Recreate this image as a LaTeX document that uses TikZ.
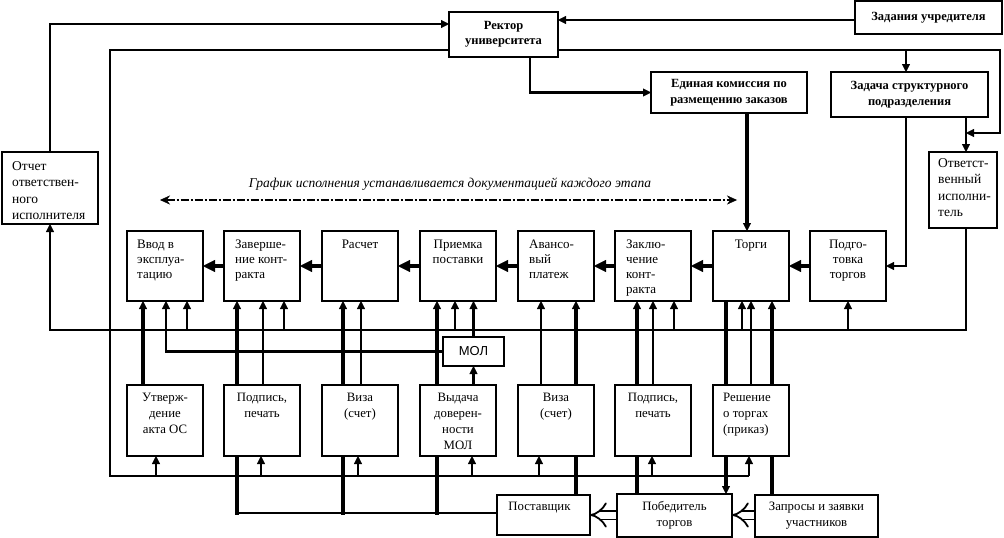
\documentclass[tikz,border=0pt]{standalone}
\usepackage{fontspec}
\setmainfont{Liberation Serif}
\newfontfamily\molfont{Liberation Sans}
\usetikzlibrary{arrows.meta}
\pgfdeclarelayer{bg}
\pgfsetlayers{bg,main}
\begin{document}
\begin{tikzpicture}[x=1pt,y=-1pt,
  box/.style={draw, fill=white, line width=1.8pt, rectangle, inner sep=0pt, outer sep=0pt, anchor=north west},
  tx/.style={inner sep=0pt, font=\fontsize{13}{15}\selectfont},
  txo/.style={inner sep=0pt, align=left, anchor=north west, font=\fontsize{13.5}{16.5}\selectfont},
  txd/.style={inner sep=0pt, font=\fontsize{12.8}{16}\selectfont},
  txb/.style={inner sep=0pt, align=center, font=\bfseries\fontsize{12.5}{15.5}\selectfont},
  thn/.style={line width=1.4pt},
  med/.style={line width=2.6pt},
  thk/.style={line width=4.6pt, line cap=rect},
  ta/.style={-{Triangle[length=8pt,width=8pt,line width=0.4pt]}},
  tb/.style={-{Triangle[length=12pt,width=12pt,line width=0.4pt]}},
  hol/.style={double, double distance=7pt, line width=1.8pt, -{Implies}},
  dd/.style={line width=1.5pt, dash pattern=on 8pt off 2pt on 2pt off 2pt,
    {Stealth[length=10pt,width=9pt,line width=0.4pt]}-{Stealth[length=10pt,width=9pt,line width=0.4pt]}},
]
\useasboundingbox (0,0) rectangle (1004,538);

% ---------- top boxes
\node[box, minimum width=109pt, minimum height=45pt] (rektor) at (449,12) {};
\node[txb] (rektorT) at (rektor.center) {Ректор\\университета};
\node[box, minimum width=147pt, minimum height=33pt] (zad) at (855,1) {};
\node[txb] (zadT) at (zad.center) {Задания учредителя};
\node[box, minimum width=156pt, minimum height=41pt] (edin) at (651,72) {};
\node[txb] (edinT) at (edin.center) {Единая комиссия по\\размещению заказов};
\node[box, minimum width=157pt, minimum height=45pt] (zadacha) at (831,72) {};
\node[txb] (zadachaT) at (zadacha.center) {Задача структурного\\подразделения};
\node[box, minimum width=68pt, minimum height=76pt] (otv) at (929,152) {};
\node[txo] (otvT) at ([xshift=9pt,yshift=-6pt]otv.north west) {Ответст-\\венный\\исполни-\\тель};
\node[box, minimum width=96pt, minimum height=72pt] (otchet) at (2,152) {};
\node[txo] (otchetT) at ([xshift=10pt,yshift=-9pt]otchet.north west) {Отчет\\ответствен-\\ного\\исполнителя};

% ---------- middle row
\foreach \n/\x in {vvod/127, zav/224, rasch/322, priem/420, avans/518, zakl/615, torgi/713, podg/810}
  \node[box, minimum width=76pt, minimum height=70pt] (\n) at (\x,231) {};
\node[tx, align=left, anchor=north west] (vvodT) at ([xshift=10pt,yshift=-9pt]vvod.north west) {Ввод в\\эксплуа-\\тацию};
\node[tx, align=left, anchor=north west] (zavT) at ([xshift=11pt,yshift=-9pt]zav.north west) {Заверше-\\ние конт-\\ракта};
\node[tx, align=center, anchor=north] (raschT) at ([yshift=-9pt]rasch.north) {Расчет};
\node[tx, align=center, anchor=north] (priemT) at ([yshift=-9pt]priem.north) {Приемка\\поставки};
\node[tx, align=left, anchor=north west] (avansT) at ([xshift=11pt,yshift=-9pt]avans.north west) {Авансо-\\вый\\платеж};
\node[tx, align=left, anchor=north west] (zaklT) at ([xshift=11pt,yshift=-9pt]zakl.north west) {Заклю-\\чение\\конт-\\ракта};
\node[tx, align=center, anchor=north] (torgiT) at ([yshift=-9pt]torgi.north) {Торги};
\node[tx, align=center, anchor=north] (podgT) at ([yshift=-9pt]podg.north) {Подго-\\товка\\торгов};

% ---------- bottom row
\foreach \n/\x in {utv/127, pod1/224, viza1/322, vyd/420, viza2/518, pod2/615, resh/713}
  \node[box, minimum width=76pt, minimum height=71pt] (\n) at (\x,385) {};
\node[txd, align=center, anchor=north] (utvT) at ([yshift=-8pt]utv.north) {Утверж-\\дение\\акта ОС};
\node[txd, align=center, anchor=north] (pod1T) at ([yshift=-8pt]pod1.north) {Подпись,\\печать};
\node[txd, align=center, anchor=north] (viza1T) at ([yshift=-8pt]viza1.north) {Виза\\(счет)};
\node[txd, align=center, anchor=north] (vydT) at ([yshift=-8pt]vyd.north) {Выдача\\доверен-\\ности\\МОЛ};
\node[txd, align=center, anchor=north] (viza2T) at ([yshift=-8pt]viza2.north) {Виза\\(счет)};
\node[txd, align=center, anchor=north] (pod2T) at ([yshift=-8pt]pod2.north) {Подпись,\\печать};
\node[txd, align=left, anchor=north west] (reshT) at ([xshift=10pt,yshift=-8pt]resh.north west) {Решение\\о торгах\\(приказ)};

% ---------- MOL and lowest row
\node[box, minimum width=61pt, minimum height=29pt] (mol) at (443,337) {};
\node[inner sep=0pt, font=\molfont\fontsize{13}{15}\selectfont] (molT) at (mol.center) {МОЛ};
\node[box, minimum width=93pt, minimum height=40pt] (post) at (497,495) {};
\node[txd, anchor=north] (postT) at ([xshift=-4pt,yshift=-7pt]post.north) {Поставщик};
\node[box, minimum width=115pt, minimum height=43pt] (pob) at (617,494) {};
\node[txd, align=center] (pobT) at (pob.center) {Победитель\\торгов};
\node[box, minimum width=123pt, minimum height=42pt] (zapr) at (755,495) {};
\node[txd, align=center] (zaprT) at (zapr.center) {Запросы и заявки\\участников};

% ---------- schedule note
\coordinate (gL) at (160,200);
\coordinate (gR) at (737,200);
\node[inner sep=0pt, font=\itshape\fontsize{13.5}{16}\selectfont] (graf) at (450,184) {График исполнения устанавливается документацией каждого этапа};

% ---------- connectors
\coordinate (jTop) at (906,50);
\coordinate (jOtv) at (966,133);
\coordinate (busR) at (966,330);
\coordinate (busL) at (50,330);
\coordinate (pb1) at (237,513);
\coordinate (pb2) at (343,513);
\coordinate (pb3) at (437,513);
\begin{pgfonlayer}{bg}
\draw[med,ta] (otchet.north) -- (otchet.north |- 0,24) -- (rektor.west |- 0,24);
\draw[med,ta] (zad.west |- 0,20) -- (rektor.east |- 0,20);
\draw[med,ta] (rektor.south -| 530,0) |- (edin.west);
\draw[thk,ta] (edin.south -| 747,0) -- (torgi.north -| 747,0);
\draw[thn] (rektor.west |- 0,50) -| (110,476) -- (749,476);
\draw[med,ta] (rektor.east |- 0,50) -| (1000,133) -- (jOtv);
\draw[med,ta] (jTop) -- (zadacha.north -| jTop);
\draw[med,ta] (zadacha.south -| jOtv) -- (otv.north -| jOtv);
\draw[med,ta] (zadacha.south -| jTop) |- (podg.east);
\draw[med,ta] (otv.south -| busR) -- (busR) -- (busL) -- (otchet.south);
\foreach \n/\x in {vvod/187, zav/284, priem/455, zakl/674, torgi/742, podg/848}
  \draw[med,ta] (\x,330) -- (\n.south -| \x,0);
\draw[med,ta] (mol.west) -| (vvod.south -| 166,0);
\draw[med,ta] (mol.north) -- (priem.south -| mol.north);
\draw[med,ta] (vyd.north -| mol.south) -- (mol.south);
\draw[thk,ta] (utv.north -| 143,0) -- (vvod.south -| 143,0);
\foreach \a/\b/\x in {pod1/zav/263, viza1/rasch/361, viza2/avans/541, pod2/zakl/653, resh/torgi/751}
  \draw[med,ta] (\a.north -| \x,0) -- (\b.south -| \x,0);
\draw[med] (post.west |- pb1) -- (pb1);
\draw[thk,ta] (pb1) -- (zav.south -| pb1);
\draw[thk,ta] (pb2) -- (rasch.south -| pb2);
\draw[thk,ta] (pb3) -- (priem.south -| pb3);
\draw[thk,ta] (post.north -| 576,0) -- (avans.south -| 576,0);
\draw[thk,ta] (pob.north -| 637,0) -- (zakl.south -| 637,0);
\draw[thk,ta] (torgi.south -| 726,0) -- (pob.north -| 726,0);
\draw[thk,ta] (zapr.north -| 772,0) -- (torgi.south -| 772,0);
\foreach \n/\x in {utv/156, pod1/261, viza1/358, vyd/472, viza2/539, pod2/652, resh/749}
  \draw[med,ta] (\x,476) -- (\n.south -| \x,0);
\foreach \a/\b in {podg/torgi, torgi/zakl, zakl/avans, avans/priem, priem/rasch, rasch/zav, zav/vvod}
  \draw[thk,tb] (\a.west) -- (\b.east);
\draw[hol] (pob.west |- 0,515) -- (post.east |- 0,515);
\draw[hol] (zapr.west |- 0,515) -- (pob.east |- 0,515);
\draw[dd] (gL) -- (gR);
\end{pgfonlayer}
\end{tikzpicture}
\end{document}
